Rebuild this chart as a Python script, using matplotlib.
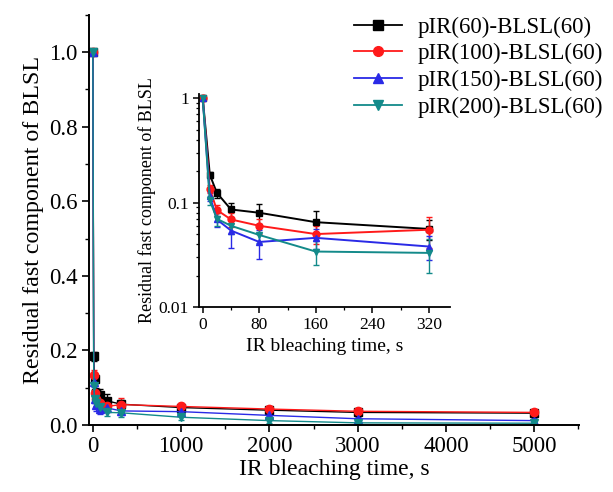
import numpy as np
import matplotlib.pyplot as plt
from matplotlib.lines import Line2D
from matplotlib.ticker import MultipleLocator, LogLocator, NullFormatter, FuncFormatter

plt.rcParams['font.family'] = ['Liberation Serif', 'DejaVu Serif']

# bleaching times (s)
tshort = [0, 10, 20, 40, 80, 160, 320]
tlong = [1000, 2000, 3000, 5000]
times = tshort + tlong

labels = ["pIR(60)-BLSL(60)", "pIR(100)-BLSL(60)", "pIR(150)-BLSL(60)", "pIR(200)-BLSL(60)"]
colors = ["black", "#ff1a1a", "#2a2ae6", "#138a8a"]
markers = ["s", "o", "^", "v"]

# residual fast component, one list per preheat
res60 = [1.0, 0.185, 0.124, 0.086, 0.080, 0.065, 0.056, 0.047, 0.040, 0.034, 0.032]
res100 = [1.0, 0.135, 0.085, 0.069, 0.060, 0.050, 0.055, 0.050, 0.043, 0.037, 0.034]
res150 = [1.0, 0.115, 0.069, 0.054, 0.042, 0.046, 0.038, 0.036, 0.026, 0.017, 0.012]
res200 = [1.0, 0.105, 0.070, 0.060, 0.049, 0.034, 0.033, 0.021, 0.012, 0.006, 0.005]

err60 = [0.0, 0.012, 0.012, 0.014, 0.017, 0.019, 0.012, 0.008, 0.008, 0.007, 0.007]
err100 = [0.0, 0.012, 0.010, 0.010, 0.010, 0.010, 0.018, 0.009, 0.008, 0.007, 0.007]
err150 = [0.0, 0.012, 0.010, 0.017, 0.013, 0.010, 0.010, 0.008, 0.007, 0.006, 0.006]
err200 = [0.0, 0.010, 0.010, 0.010, 0.008, 0.009, 0.012, 0.008, 0.007, 0.006, 0.005]

series = [res60, res100, res150, res200]
errors = [err60, err100, err150, err200]

fig = plt.figure(figsize=(6.13, 4.92), dpi=100)
ax = fig.add_axes([0.145, 0.136, 0.80, 0.834])

for y, e, c, m in zip(series, errors, colors, markers):
    ax.errorbar(times, y, yerr=e, color=c, marker=m, markersize=6, lw=1.0,
                capsize=2.5, elinewidth=1.0)

ax.set_xlim(-45, 5510)
ax.set_ylim(0, 1.1)
ax.xaxis.set_major_locator(MultipleLocator(1000))
ax.xaxis.set_minor_locator(MultipleLocator(500))
ax.yaxis.set_major_locator(MultipleLocator(0.2))
ax.yaxis.set_minor_locator(MultipleLocator(0.1))
ax.yaxis.set_major_formatter(FuncFormatter(lambda v, p: "%.1f" % v))
ax.tick_params(which='major', direction='out', length=5, width=1.2, labelsize=16.5, pad=3)
ax.tick_params(which='minor', direction='out', length=3, width=1.0)
for s in ['top', 'right']:
    ax.spines[s].set_visible(False)
for s in ['left', 'bottom']:
    ax.spines[s].set_linewidth(1.4)
ax.set_xlabel("IR bleaching time, s", fontsize=17, labelpad=1)
ax.set_ylabel("Residual fast component of BLSL", fontsize=17.3, labelpad=4)

# legend shows line + marker only
handles = [Line2D([], [], color=c, marker=m, markersize=7, lw=1.3) for c, m in zip(colors, markers)]
fig.legend(handles, labels, loc='upper left', bbox_to_anchor=(0.562, 0.985), frameon=False,
           fontsize=16.5, handlelength=2.1, handletextpad=0.7, labelspacing=0.24,
           borderaxespad=0)

# inset: first 320 s on a log scale
ins = fig.add_axes([0.325, 0.376, 0.409, 0.433])
for y, e, c, m in zip(series, errors, colors, markers):
    ins.errorbar(tshort, y[:7], yerr=e[:7], color=c, marker=m, markersize=5, lw=1.4,
                 capsize=2, elinewidth=1.0)
ins.set_yscale('log')
ins.set_xlim(-5, 350)
ins.set_ylim(0.01, 1.1)
ins.xaxis.set_major_locator(MultipleLocator(80))
ins.xaxis.set_minor_locator(MultipleLocator(40))
ins.yaxis.set_major_locator(LogLocator(base=10))
ins.yaxis.set_minor_locator(LogLocator(base=10, subs=np.arange(2, 10)))
ins.yaxis.set_minor_formatter(NullFormatter())
ins.yaxis.set_major_formatter(FuncFormatter(lambda v, p: "%g" % v))
ins.tick_params(which='major', direction='out', length=4, width=1.1, labelsize=12.5)
ins.tick_params(which='minor', direction='out', length=2, width=0.9)
for s in ['top', 'right']:
    ins.spines[s].set_visible(False)
for s in ['left', 'bottom']:
    ins.spines[s].set_linewidth(1.3)
ins.set_xlabel("IR bleaching time, s", fontsize=14, labelpad=3)
ins.set_ylabel("Residual fast component of BLSL", fontsize=13, labelpad=2)

fig.savefig("out.png", dpi=100)
